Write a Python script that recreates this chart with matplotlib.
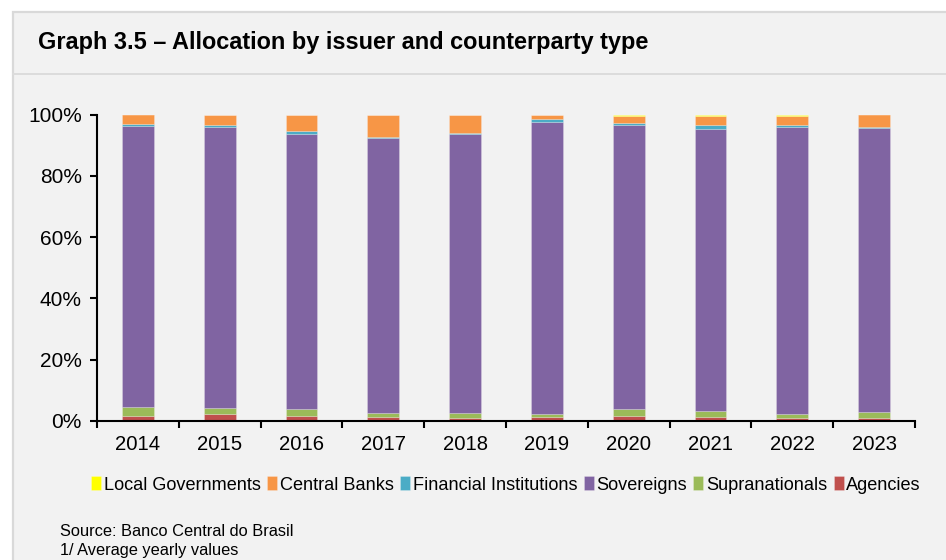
import matplotlib
matplotlib.use("Agg")
import matplotlib.pyplot as plt
from matplotlib.patches import Rectangle
from matplotlib.ticker import PercentFormatter, FixedLocator
import numpy as np

plt.rcParams['font.family'] = ['Liberation Sans', 'DejaVu Sans']

years = ["2014", "2015", "2016", "2017", "2018", "2019", "2020", "2021", "2022", "2023"]

# Shares in % (average yearly values)
agencies = [1.7, 2.2, 1.7, 1.4, 1.0, 1.4, 1.7, 1.4, 1.0, 1.0]
supranationals = [2.8, 2.0, 2.1, 1.2, 1.6, 0.8, 2.1, 2.0, 1.3, 2.0]
financial_institutions = [0.4, 0.5, 0.9, 0.4, 0.5, 0.8, 0.8, 1.2, 0.7, 0.4]
central_banks = [3.2, 3.5, 5.4, 7.4, 5.9, 1.5, 2.2, 2.9, 2.9, 4.0]
local_governments = [0.0, 0.0, 0.0, 0.0, 0.0, 0.0, 0.5, 0.5, 0.5, 0.0]
sovereigns = [100 - a - s - f - c - l for a, s, f, c, l in
              zip(agencies, supranationals, financial_institutions,
                  central_banks, local_governments)]

series = [
    ("Agencies", agencies, "#C0504D"),
    ("Supranationals", supranationals, "#9BBB59"),
    ("Sovereigns", sovereigns, "#8064A2"),
    ("Financial Institutions", financial_institutions, "#4BACC6"),
    ("Central Banks", central_banks, "#F79646"),
    ("Local Governments", local_governments, "#FFFF00"),
]

bg = "#F2F2F2"
fig = plt.figure(figsize=(9.46, 5.6), dpi=100)
fig.patch.set_facecolor("white")

W, H = 946, 560
def fx(px): return px / W
def fy(py): return 1 - py / H

# Panel background with border and title separator
panel = Rectangle((fx(12.5), -0.01), 1 - fx(12.5) + 0.01, fy(11.5) + 0.01,
                  transform=fig.transFigure, facecolor=bg, edgecolor="#D9D9D9",
                  linewidth=1.6, zorder=-10)
fig.add_artist(panel)
fig.add_artist(plt.Line2D([fx(12.5), 1], [fy(74), fy(74)], transform=fig.transFigure,
                          color="#DCDCDC", linewidth=1.4, zorder=-5))

fig.text(fx(38), fy(43), "Graph 3.5 \u2013 Allocation by issuer and counterparty type",
         fontsize=16.9, fontweight="bold", va="center", ha="left", color="black")

ax = fig.add_axes([fx(97), fy(421), fx(915) - fx(97), fy(114.5) - fy(421)])
ax.set_facecolor(bg)
ax.patch.set_alpha(0)

x = np.arange(len(years))
bottom = np.zeros(len(years))
handles = {}
for name, vals, col in series:
    v = np.array(vals)
    b = ax.bar(x, v, 0.39, bottom=bottom, color=col, edgecolor=(1, 1, 1, 0.3),
               linewidth=0.5, label=name, zorder=2)
    handles[name] = b
    bottom += v

ax.set_xlim(-0.5, len(years) - 0.5)
ax.set_ylim(0, 100)
ax.yaxis.set_major_formatter(PercentFormatter(decimals=0))
ax.set_yticks(np.arange(0, 101, 20))
ax.tick_params(axis="y", length=5, width=1.5, labelsize=15, pad=6)
ax.set_xticks(x)
ax.set_xticklabels(years)
ax.tick_params(axis="x", which="major", length=0, labelsize=14.6, pad=10)
ax.xaxis.set_minor_locator(FixedLocator(np.arange(-0.5, len(years), 1)))
ax.tick_params(axis="x", which="minor", length=5, width=1.5, color="black", direction="out")
for s in ["right", "top"]:
    ax.spines[s].set_visible(False)
for s in ["left", "bottom"]:
    ax.spines[s].set_linewidth(1.5)
    ax.spines[s].set_zorder(3)

order = ["Local Governments", "Central Banks", "Financial Institutions",
         "Sovereigns", "Supranationals", "Agencies"]
leg = fig.legend([handles[n] for n in order], order, loc="center",
                 bbox_to_anchor=(fx(506), fy(485)), ncol=6, frameon=False,
                 fontsize=13.1, handlelength=0.55, handleheight=0.8,
                 handletextpad=0.15, columnspacing=0.35)

fig.text(fx(60), fy(532), "Source: Banco Central do Brasil", fontsize=11.8, va="center")
fig.text(fx(60), fy(550), "1/ Average yearly values", fontsize=11.8, va="center")

fig.savefig("out.png", dpi=100, facecolor=fig.get_facecolor())
